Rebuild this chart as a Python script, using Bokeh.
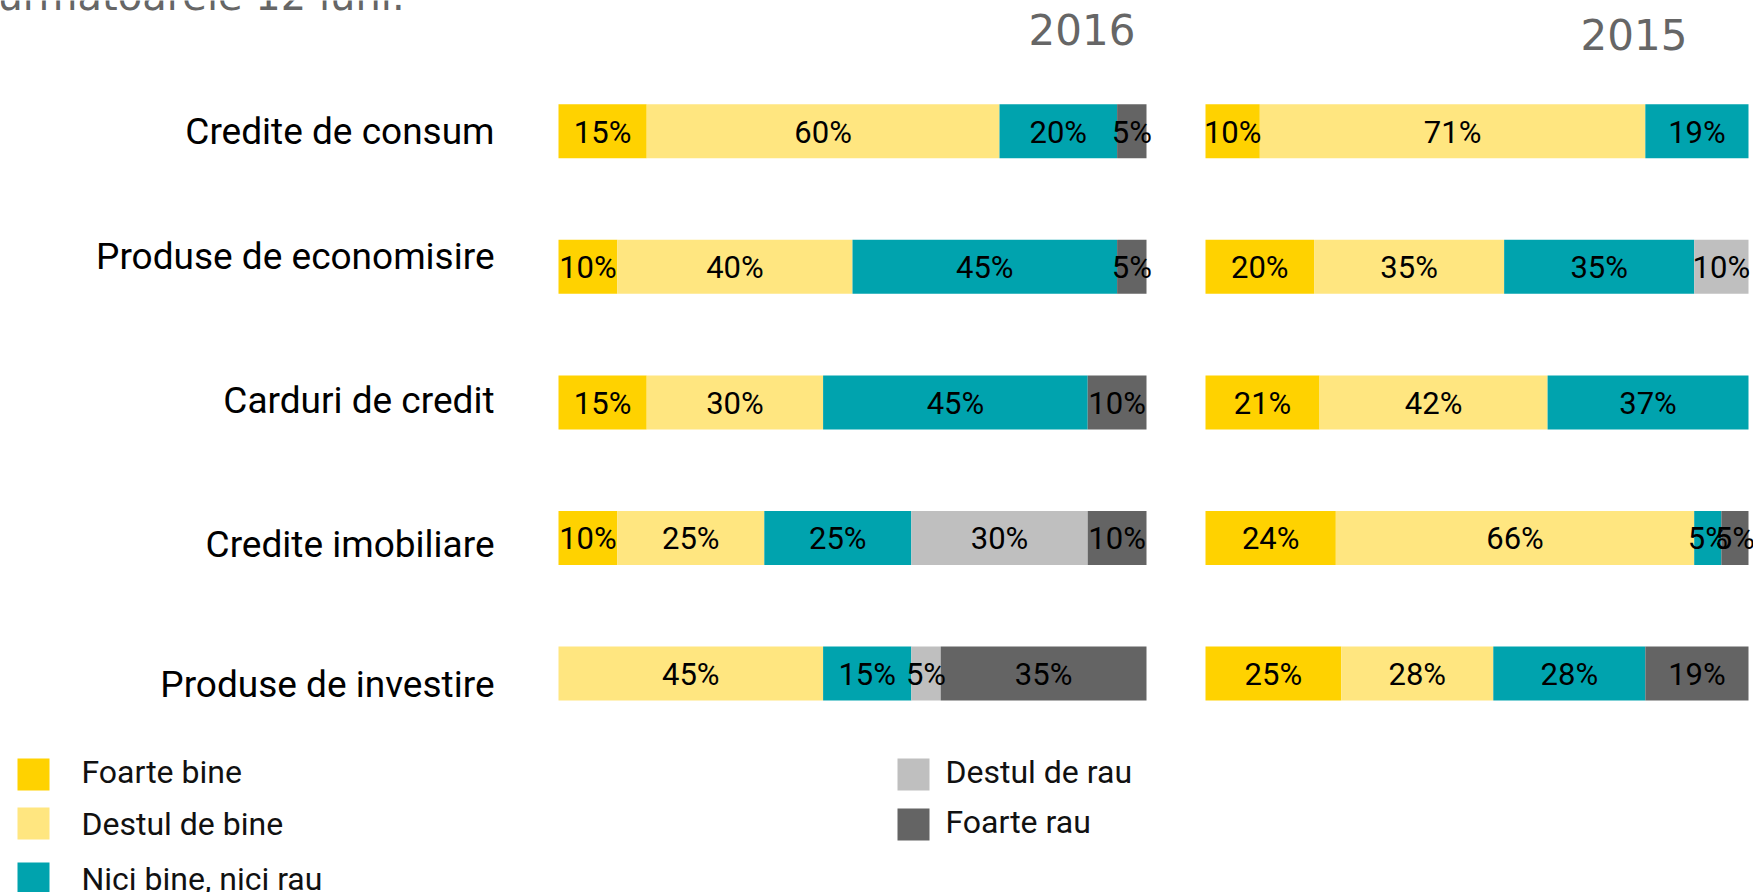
from bokeh.plotting import figure
from bokeh.models import Range1d, ColumnDataSource
from bokeh.core.properties import value
from bokeh.embed import file_html
from bokeh.resources import INLINE

# ---------------- data ----------------
categories = ["Credite de consum", "Produse de economisire", "Carduri de credit",
              "Credite imobiliare", "Produse de investire"]
series = ["Foarte bine", "Destul de bine", "Nici bine, nici rau", "Destul de rau", "Foarte rau"]
colors = ["#FFD200", "#FFE680", "#00A3AE", "#BFBFBF", "#646464"]
years = ["2016", "2015"]

foarte_bine_2016 = [15, 10, 15, 10, 0]
destul_bine_2016 = [60, 40, 30, 25, 45]
nici_2016 = [20, 45, 45, 25, 15]
destul_rau_2016 = [0, 0, 0, 30, 5]
foarte_rau_2016 = [5, 5, 10, 10, 35]

foarte_bine_2015 = [10, 20, 21, 24, 25]
destul_bine_2015 = [71, 35, 42, 66, 28]
nici_2015 = [19, 35, 37, 5, 28]
destul_rau_2015 = [0, 10, 0, 0, 0]
foarte_rau_2015 = [0, 0, 0, 5, 19]

title_text = "urmatoarele 12 luni."

data_2016 = [foarte_bine_2016, destul_bine_2016, nici_2016, destul_rau_2016, foarte_rau_2016]
data_2015 = [foarte_bine_2015, destul_bine_2015, nici_2015, destul_rau_2015, foarte_rau_2015]

# ---------------- layout ----------------
W, H = 1753, 892
ROW0, ROWSTEP = 130.8, 135.55
BAR_PX = 54

p = figure(width=W, height=H, x_range=Range1d(0, W), y_range=Range1d(H, 0),
           output_backend="svg", toolbar_location=None, min_border=0,
           x_axis_type=None, y_axis_type=None, outline_line_color=None,
           background_fill_color="white", border_fill_color="white")
p.grid.visible = False

# value ranges for the two panels (0..100 %)
p16_left, p16_px = 558, 5.88
p15_left, p15_px = 1205, 5.43
p.extra_x_ranges = {
    "v16": Range1d(-p16_left / p16_px, (W - p16_left) / p16_px),
    "v15": Range1d(-p15_left / p15_px, (W - p15_left) / p15_px),
}
p.extra_y_ranges = {"row": Range1d((H - ROW0) / ROWSTEP, -ROW0 / ROWSTEP)}

LABEL_FONT = value("Roboto")


def draw_panel(data, xr):
    rows = list(range(len(categories)))
    cum = [0] * len(categories)
    lx, ly, lt = [], [], []
    for k, vals in enumerate(data):
        left = list(cum)
        right = [c + v for c, v in zip(cum, vals)]
        src = ColumnDataSource(dict(y=rows, left=left, right=right))
        p.hbar(y="y", left="left", right="right", height=BAR_PX / ROWSTEP,
               source=src, fill_color=colors[k], line_color=None,
               x_range_name=xr, y_range_name="row")
        for i, v in enumerate(vals):
            if v > 0:
                lx.append((left[i] + right[i]) / 2)
                ly.append(i)
                lt.append(f"{v}%")
        cum = right
    p.text(x=lx, y=ly, text=lt, x_range_name=xr, y_range_name="row",
           text_align="center", text_baseline="alphabetic", y_offset=1,
           text_font=LABEL_FONT, text_font_size="31px", text_color="#000000")


draw_panel(data_2016, "v16")
draw_panel(data_2015, "v15")

# category labels (the source image places them slightly off the bar centres)
label_dy = [0, -10, -2, 7, 11]
cat_src = ColumnDataSource(dict(x=[494] * len(categories), y=list(range(len(categories))),
                                text=categories, dy=label_dy))
p.text(x="x", y="y", text="text", y_offset="dy", source=cat_src,
       y_range_name="row", text_align="right", text_baseline="alphabetic",
       text_font=LABEL_FONT, text_font_size="37px", text_color="#000000")

# year headers
p.text(x=[1135, 1687], y=[28.5, 34], text=years, text_align="right",
       text_baseline="alphabetic", text_font=value("DejaVu Sans"),
       text_font_size="42px", text_color="#666666")

# cut-off title at the top
p.text(x=[-3], y=[-5], text=[title_text], text_align="left",
       text_baseline="alphabetic", text_font=value("DejaVu Sans"),
       text_font_size="40px", text_color="#666666")

# legend
leg_cx = [33, 33, 33, 913, 913]
leg_cy = [774, 823, 878, 774, 824]
leg_tx = [81, 81, 81, 945, 945]
leg_ty = [771.5, 823.5, 878.5, 771.5, 821.5]
p.rect(x=leg_cx, y=leg_cy, width=32, height=32, fill_color=colors, line_color=None)
p.text(x=leg_tx, y=leg_ty, text=series, text_align="left",
       text_baseline="alphabetic", text_font=LABEL_FONT, text_font_size="32px",
       text_color="#111111")

open("out.html", "w").write(file_html(p, INLINE))
